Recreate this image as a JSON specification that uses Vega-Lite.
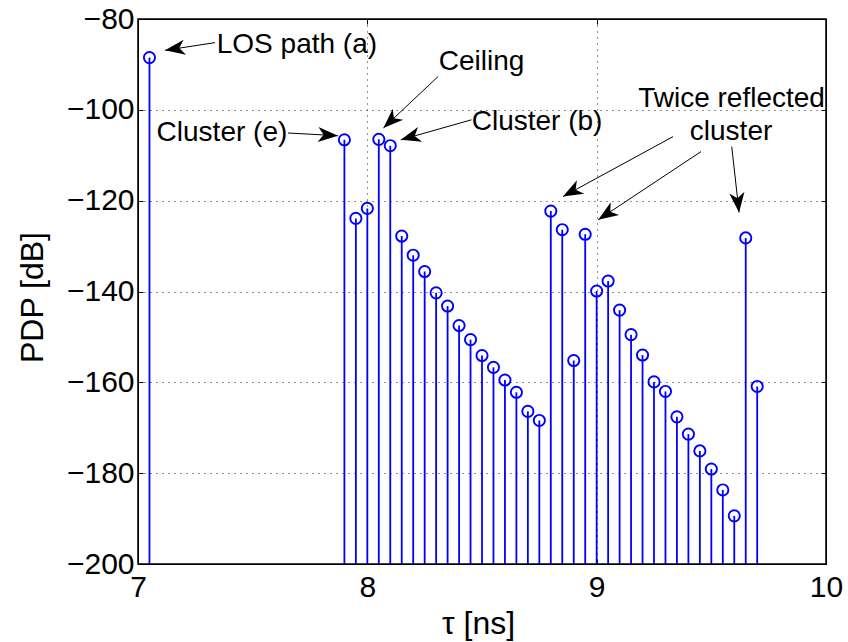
{
  "$schema": "https://vega.github.io/schema/vega-lite/v6.json",
  "width": 688,
  "height": 545,
  "autosize": {"type": "none"},
  "padding": {"left": 138, "top": 19, "right": 22, "bottom": 78},
  "background": "white",
  "config": {
    "view": {"stroke": "black", "strokeWidth": 1.5},
    "font": "Liberation Sans",
    "axis": {
      "labelFont": "Liberation Sans",
      "titleFont": "Liberation Sans",
      "labelFontSize": 30,
      "titleFontSize": 32,
      "titleFontWeight": "normal",
      "labelColor": "black",
      "titleColor": "black",
      "domainColor": "black",
      "tickColor": "black",
      "gridColor": "#222222",
      "gridDash": [1, 5],
      "gridWidth": 1,
      "gridOpacity": 1,
      "labelFlush": false,
      "labelOverlap": false
    }
  },
  "datasets": {
    "pdp": [
      {"tau": 7.05, "pdp": -88.5},
      {"tau": 7.9, "pdp": -106.6},
      {"tau": 7.95, "pdp": -123.9},
      {"tau": 8.0, "pdp": -121.7},
      {"tau": 8.05, "pdp": -106.5},
      {"tau": 8.1, "pdp": -107.9},
      {"tau": 8.15, "pdp": -127.8},
      {"tau": 8.2, "pdp": -132.0},
      {"tau": 8.25, "pdp": -135.6},
      {"tau": 8.3, "pdp": -140.3},
      {"tau": 8.35, "pdp": -143.2},
      {"tau": 8.4, "pdp": -147.5},
      {"tau": 8.45, "pdp": -150.6},
      {"tau": 8.5, "pdp": -154.1},
      {"tau": 8.55, "pdp": -156.7},
      {"tau": 8.6, "pdp": -159.5},
      {"tau": 8.65, "pdp": -162.2},
      {"tau": 8.7, "pdp": -166.4},
      {"tau": 8.75, "pdp": -168.4},
      {"tau": 8.8, "pdp": -122.3},
      {"tau": 8.85, "pdp": -126.4},
      {"tau": 8.9, "pdp": -155.2},
      {"tau": 8.95, "pdp": -127.4},
      {"tau": 9.0, "pdp": -139.9},
      {"tau": 9.05, "pdp": -137.7},
      {"tau": 9.1, "pdp": -144.1},
      {"tau": 9.15, "pdp": -149.5},
      {"tau": 9.2, "pdp": -154.0},
      {"tau": 9.25, "pdp": -159.9},
      {"tau": 9.3, "pdp": -162.0},
      {"tau": 9.35, "pdp": -167.6},
      {"tau": 9.4, "pdp": -171.4},
      {"tau": 9.45, "pdp": -175.1},
      {"tau": 9.5, "pdp": -179.1},
      {"tau": 9.55, "pdp": -183.7},
      {"tau": 9.6, "pdp": -189.4},
      {"tau": 9.65, "pdp": -128.2},
      {"tau": 9.7, "pdp": -160.9}
    ],
    "labels": [
      {"t": 7.693, "v": -87.4, "label": "LOS path (a)"},
      {"t": 7.366, "v": -106.8, "label": "Cluster (e)"},
      {"t": 8.498, "v": -91.2, "label": "Ceiling"},
      {"t": 8.74, "v": -104.4, "label": "Cluster (b)"},
      {"t": 9.588, "v": -99.3, "label": "Twice reflected"},
      {"t": 9.586, "v": -106.6, "label": "cluster"}
    ],
    "arrows": [
      {"t0": 7.336, "v0": -85.2, "t1": 7.118, "v1": -86.9, "angle": 260.9},
      {"t0": 7.654, "v0": -105.1, "t1": 7.872, "v1": -105.7, "angle": 93.4},
      {"t0": 8.309, "v0": -92.65, "t1": 8.07, "v1": -104.0, "angle": 226.8},
      {"t0": 8.454, "v0": -102.2, "t1": 8.146, "v1": -106.6, "angle": 254.3},
      {"t0": 9.333, "v0": -105.9, "t1": 8.853, "v1": -119.1, "angle": 241.4},
      {"t0": 9.455, "v0": -109.2, "t1": 9.007, "v1": -124.2, "angle": 236.4},
      {"t0": 9.589, "v0": -108.1, "t1": 9.621, "v1": -122.6, "angle": 173.7}
    ]
  },
  "layer": [
    {
      "data": {"name": "pdp"},
      "mark": {"type": "rule", "color": "#0000ff", "strokeWidth": 1.8},
      "encoding": {
        "x": {
          "field": "tau", "type": "quantitative",
          "scale": {"domain": [7, 10], "nice": false, "zero": false},
          "axis": {"orient": "bottom", "values": [7, 8, 9, 10], "grid": true, "tickSize": -5, "labelPadding": 13, "title": "τ [ns]", "titleX": 340, "titleY": 69, "titleBaseline": "alphabetic", "titleAnchor": "middle", "titleAlign": "center"}
        },
        "y": {
          "field": "pdp", "type": "quantitative",
          "scale": {"domain": [-200, -80], "nice": false, "zero": false},
          "axis": {"orient": "left", "values": [-200, -180, -160, -140, -120, -100, -80], "grid": true, "tickSize": -5, "labelPadding": 9, "title": "PDP [dB]", "titleX": -96, "titleY": 278, "titleAngle": -90, "titleBaseline": "alphabetic", "titleAlign": "center"}
        },
        "y2": {"datum": -200}
      }
    },
    {
      "data": {"name": "pdp"},
      "mark": {"type": "point", "shape": "circle", "filled": false, "color": "#0000ff", "strokeWidth": 1.9, "size": 125, "opacity": 1},
      "encoding": {
        "x": {"field": "tau", "type": "quantitative", "axis": {"orient": "top", "values": [7, 8, 9, 10], "grid": false, "labels": false, "tickSize": -5, "title": null}},
        "y": {"field": "pdp", "type": "quantitative", "axis": {"orient": "right", "values": [-200, -180, -160, -140, -120, -100, -80], "grid": false, "labels": false, "tickSize": -5, "title": null}}
      }
    },
    {
      "data": {"name": "arrows"},
      "mark": {"type": "rule", "color": "black", "strokeWidth": 1},
      "encoding": {
        "x": {"field": "t0", "type": "quantitative", "axis": null},
        "y": {"field": "v0", "type": "quantitative", "axis": null},
        "x2": {"field": "t1"},
        "y2": {"field": "v1"}
      }
    },
    {
      "data": {"name": "arrows"},
      "mark": {"type": "point", "shape": "M0,0L-0.38,1L0,0.72L0.38,1Z", "filled": true, "color": "black", "size": 1600, "opacity": 1, "strokeWidth": 0},
      "encoding": {
        "x": {"field": "t1", "type": "quantitative", "axis": null},
        "y": {"field": "v1", "type": "quantitative", "axis": null},
        "angle": {"field": "angle", "type": "quantitative", "scale": null}
      }
    },
    {
      "data": {"name": "labels"},
      "mark": {"type": "text", "fontSize": 28, "font": "Liberation Sans", "color": "black", "align": "center", "baseline": "alphabetic"},
      "encoding": {
        "x": {"field": "t", "type": "quantitative", "axis": null},
        "y": {"field": "v", "type": "quantitative", "axis": null},
        "text": {"field": "label", "type": "nominal"}
      }
    }
  ],
  "resolve": {"axis": {"x": "independent", "y": "independent"}}
}
